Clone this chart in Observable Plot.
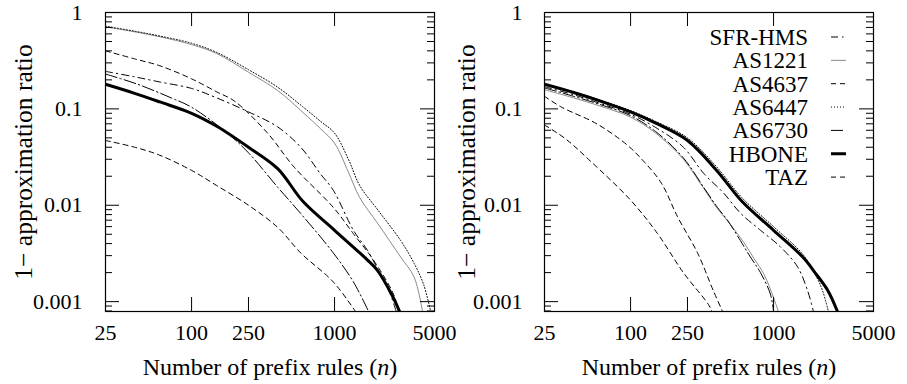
<!DOCTYPE html>
<html><head><meta charset="utf-8">
<script src="https://cdn.jsdelivr.net/npm/d3@7"></script>
<script src="https://cdn.jsdelivr.net/npm/@observablehq/plot@0.6"></script>
<style>
body{margin:0;background:#fff;}
#wrap{display:flex;width:907px;height:384px;}
#wrap svg{flex:none;overflow:visible;}
#wrap svg text, #wrap svg tspan{font-family: Liberation Serif, DejaVu Serif, serif !important;}
</style>
</head><body><div id="wrap"></div>
<script>
// ---------- categories / ticks ----------
const series = ["SFR-HMS","AS1221","AS4637","AS6447","AS6730","HBONE","TAZ"];
const xTickValues = [25,100,250,1000,5000];
const xTickLabels = ["25","100","250","1000","5000"];
const yTickValues = [1,0.1,0.01,0.001];
const yTickLabels = ["1","0.1","0.01","0.001"];
const xAxisLabel = "Number of prefix rules (n)";
const yAxisLabel = "1\u2212 approximation ratio";
const yMin = 0.00079, yMax = 1, xMin = 25, xMax = 5000;

// ---------- left panel ----------
const L_SFR_n   = [25,40,60,100,150,250,400,580,800,980,1355,1700,2100,2450,2700];
const L_SFR_v   = [0.245,0.215,0.19,0.163,0.13,0.093,0.065,0.04,0.021,0.0143,0.0055,0.0034,0.0019,0.0012,0.00079];
const L_1221_n  = [25,40,60,100,150,250,400,600,800,1000,1250,1500,2000,2900,3600,4120];
const L_1221_v  = [0.71,0.63,0.56,0.465,0.375,0.24,0.155,0.092,0.062,0.044,0.022,0.012,0.0065,0.0029,0.0018,0.00079];
const L_4637_n  = [25,40,60,100,150,200,340,520,980,1350,1870,2580,2800];
const L_4637_v  = [0.40,0.33,0.28,0.205,0.15,0.12,0.056,0.025,0.0095,0.0051,0.0027,0.0012,0.00079];
const L_6447_n  = [25,40,60,100,150,250,400,600,800,1000,1250,1500,2000,2900,3600,4200,4700];
const L_6447_v  = [0.72,0.64,0.57,0.48,0.385,0.255,0.168,0.105,0.074,0.056,0.03,0.016,0.009,0.0043,0.0025,0.0015,0.00079];
const L_6730_n  = [25,42,72,100,178,250,400,580,980,1355,1730];
const L_6730_v  = [0.23,0.18,0.13,0.104,0.056,0.035,0.0154,0.0082,0.0032,0.0016,0.00079];
const L_HBONE_n = [25,40,60,100,150,250,400,600,1000,1500,1700,2000,2500,2850];
const L_HBONE_v = [0.18,0.145,0.118,0.09,0.066,0.04,0.024,0.011,0.0055,0.0032,0.0027,0.0021,0.0012,0.00079];
const L_TAZ_n   = [25,40,60,100,150,250,400,580,980,1400];
const L_TAZ_v   = [0.047,0.04,0.033,0.023,0.016,0.010,0.0059,0.0032,0.0016,0.00079];

// ---------- right panel ----------
const R_SFR_n   = [25,40,60,100,150,234,324,447,586,810,1117,1470,1730,1900];
const R_SFR_v   = [0.17,0.14,0.115,0.088,0.064,0.040,0.0215,0.0134,0.0083,0.0055,0.0037,0.0023,0.0013,0.00079];
const R_1221_n  = [25,40,60,100,150,234,324,405,500,620,730,860,1000,1080];
const R_1221_v  = [0.158,0.13,0.108,0.082,0.056,0.030,0.015,0.0092,0.0063,0.0041,0.0028,0.0019,0.0011,0.00079];
const R_4637_n  = [25,33,58,95,125,164,213,294,379,440];
const R_4637_v  = [0.135,0.104,0.07,0.042,0.028,0.017,0.0076,0.0032,0.0013,0.00079];
const R_6447_n  = [25,40,60,100,150,250,400,600,1000,1600,2000,2200,2420];
const R_6447_v  = [0.182,0.15,0.125,0.096,0.074,0.05,0.025,0.012,0.006,0.0031,0.0018,0.0013,0.00079];
const R_6730_n  = [25,40,60,100,150,234,324,405,476,586,689,810,950,1000];
const R_6730_v  = [0.165,0.135,0.112,0.085,0.058,0.031,0.0154,0.0095,0.007,0.0043,0.0029,0.002,0.0012,0.00079];
const R_HBONE_n = [25,40,60,100,150,250,400,600,1000,1600,2000,2400,2800];
const R_HBONE_v = [0.18,0.148,0.122,0.093,0.071,0.047,0.023,0.011,0.0055,0.0029,0.0019,0.0013,0.00079];
const R_TAZ_n   = [25,35,52,100,154,234,351,370];
const R_TAZ_v   = [0.068,0.049,0.029,0.0113,0.0051,0.002,0.00093,0.00079];

// ---------- styles ----------
const styles = {
  "SFR-HMS": {color:"#000", width:1, dash:"7,4,1.5,4"},
  "AS1221":  {color:"#8a8a8a", width:1, dash:null},
  "AS4637":  {color:"#000", width:1, dash:"5,4"},
  "AS6447":  {color:"#000", width:1, dash:"1,2"},
  "AS6730":  {color:"#000", width:1, dash:"12,3,1.5,3"},
  "HBONE":   {color:"#000", width:3, dash:null},
  "TAZ":     {color:"#000", width:1, dash:"5,4"}
};

function rowsOf(list){
  const rows=[];
  for (const [s,ns,vs] of list) ns.forEach((n,i)=>rows.push({series:s,n,v:vs[i]}));
  return rows;
}
const leftRows = rowsOf([
  ["SFR-HMS",L_SFR_n,L_SFR_v],["AS1221",L_1221_n,L_1221_v],["AS4637",L_4637_n,L_4637_v],
  ["AS6447",L_6447_n,L_6447_v],["AS6730",L_6730_n,L_6730_v],["HBONE",L_HBONE_n,L_HBONE_v],["TAZ",L_TAZ_n,L_TAZ_v]]);
const rightRows = rowsOf([
  ["SFR-HMS",R_SFR_n,R_SFR_v],["AS1221",R_1221_n,R_1221_v],["AS4637",R_4637_n,R_4637_v],
  ["AS6447",R_6447_n,R_6447_v],["AS6730",R_6730_n,R_6730_v],["HBONE",R_HBONE_n,R_HBONE_v],["TAZ",R_TAZ_n,R_TAZ_v]]);

const minorTicks = [];
for (const e of [-4,-3,-2,-1]) for (let m=2;m<=9;m++){ const v=+(m*Math.pow(10,e)).toPrecision(3); if (v>=yMin && v<yMax) minorTicks.push(v); }

const FONT = "Liberation Serif, DejaVu Serif, serif";
const H = 384, MT = 12, MB = 73, PH = H - MT - MB; // plot-area height
const PW = 329; // plot-area width

function panel({rows, width, marginLeft, marginRight, yLabelDx, yTickPad}) {
  const marks = [];
  for (const s of series) {
    const st = styles[s];
    marks.push(Plot.line(rows.filter(r=>r.series===s), {
      x:"n", y:"v", stroke:st.color, strokeWidth:st.width,
      strokeDasharray: st.dash || undefined, curve:"catmull-rom", clip:true
    }));
  }
  marks.push(
    Plot.tickX(xTickValues, {x:d=>d, insetTop:PH-14, stroke:"#000"}),
    Plot.tickX(xTickValues, {x:d=>d, insetBottom:PH-14, stroke:"#000"}),
    Plot.tickY(yTickValues, {y:d=>d, insetRight:PW-14, stroke:"#000"}),
    Plot.tickY(yTickValues, {y:d=>d, insetLeft:PW-14, stroke:"#000"}),
    Plot.tickY(minorTicks, {y:d=>d, insetRight:PW-7, stroke:"#000"}),
    Plot.tickY(minorTicks, {y:d=>d, insetLeft:PW-7, stroke:"#000"}),
    Plot.text(xTickValues, {x:d=>d, frameAnchor:"bottom", dy:13, lineAnchor:"top", fontSize:22,
      text:(d,i)=>xTickLabels[i], fill:"#000"}),
    Plot.text(yTickValues, {y:d=>d, frameAnchor:"left", dx:-yTickPad, textAnchor:"end", lineAnchor:"middle", fontSize:22,
      text:(d,i)=>yTickLabels[i], fill:"#000"}),
    Plot.text([xAxisLabel], {frameAnchor:"bottom", dy:63, lineAnchor:"bottom", textAnchor:"middle", fontSize:24, text:d=>d, fill:"#000"}),
    Plot.text([yAxisLabel], {frameAnchor:"left", dx:yLabelDx, rotate:-90, lineAnchor:"top", textAnchor:"middle", fontSize:25.5, text:d=>d, fill:"#000"}),
    Plot.frame({stroke:"#000", strokeWidth:1.2})
  );
  const svg = Plot.plot({
    width, height:H, marginLeft, marginRight, marginTop:MT, marginBottom:MB,
    x:{type:"log", domain:[xMin,xMax], axis:null},
    y:{type:"log", domain:[yMin,yMax], axis:null},
    style:"background: transparent; overflow: visible; font-family: Liberation Serif, serif;",
    marks
  });
  svg.setAttribute("font-family", FONT);
  d3.select(svg).selectAll("text").attr("font-family", FONT).style("font-family", FONT);
  d3.select(svg).selectAll("text").filter(function(){return this.textContent===xAxisLabel;})
    .each(function(){
      const t=d3.select(this); t.text(null);
      t.append("tspan").text("Number of prefix rules (");
      t.append("tspan").attr("font-style","italic").text("n");
      t.append("tspan").text(")");
    });
  return svg;
}

const wrap = document.getElementById("wrap");
const left = panel({rows:leftRows, width:453, marginLeft:105, marginRight:19, yLabelDx:-92, yTickPad:23});
const right = panel({rows:rightRows, width:454, marginLeft:91, marginRight:34, yLabelDx:-88, yTickPad:22});
wrap.appendChild(left);
wrap.appendChild(right);

// legend inside right panel
const lg = d3.select(right).append("g").attr("font-family", FONT).attr("font-size", 23);
series.forEach((s,i)=>{
  const y = 37 + i*23.35, st = styles[s];
  lg.append("text").attr("x",355).attr("y",y).attr("dy","0.35em").attr("text-anchor","end").attr("fill","#000")
    .style("font-family", FONT).text(s);
  const ln = lg.append("line").attr("x1",378).attr("x2",393).attr("y1",y).attr("y2",y)
    .attr("stroke",st.color).attr("stroke-width",st.width);
  if (st.dash) ln.attr("stroke-dasharray",st.dash);
});
</script>
</body></html>
